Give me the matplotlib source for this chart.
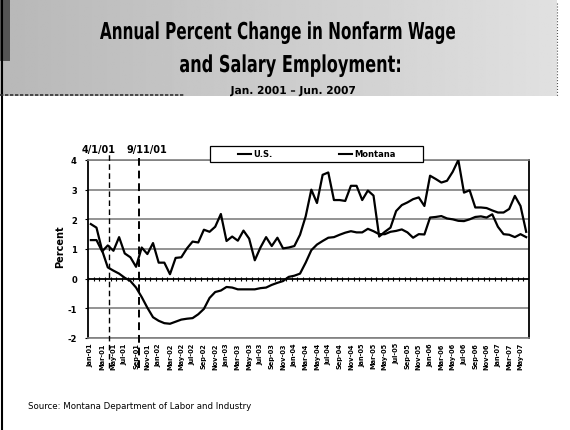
import numpy as np
import pandas as pd
import matplotlib
matplotlib.use("Agg")
import matplotlib.pyplot as plt
from matplotlib.lines import Line2D
from matplotlib.patches import Rectangle, PathPatch
from matplotlib.textpath import TextPath
from matplotlib.font_manager import FontProperties
from matplotlib.transforms import Affine2D

# monthly series, Jan 2001 - Jun 2007
months = pd.date_range("2001-01-01", "2007-06-01", freq="MS")
month_labels = [m.strftime("%b-%y") for m in months]

us = [1.84, 1.72, 0.95, 0.38, 0.27, 0.17, 0.03, -0.08, -0.30, -0.62,
      -0.98, -1.30, -1.42, -1.50, -1.52, -1.45, -1.38, -1.35, -1.33, -1.20,
      -1.02, -0.65, -0.45, -0.40, -0.28, -0.30, -0.36, -0.36, -0.36, -0.36,
      -0.32, -0.30, -0.21, -0.14, -0.08, 0.06, 0.10, 0.17, 0.54, 0.96,
      1.15, 1.27, 1.38, 1.40, 1.48, 1.55, 1.60, 1.56, 1.56, 1.68,
      1.60, 1.50, 1.50, 1.58, 1.61, 1.66, 1.56, 1.38, 1.50, 1.49,
      2.06, 2.08, 2.11, 2.03, 2.00, 1.95, 1.94, 2.00, 2.08, 2.10,
      2.06, 2.17, 1.75, 1.50, 1.48, 1.40, 1.50, 1.40]

montana = [1.30, 1.30, 0.92, 1.12, 0.94, 1.40, 0.85, 0.72, 0.40, 1.05,
           0.83, 1.20, 0.54, 0.54, 0.15, 0.70, 0.72, 1.02, 1.25, 1.22,
           1.65, 1.58, 1.75, 2.18, 1.27, 1.42, 1.28, 1.62, 1.35, 0.62,
           1.05, 1.40, 1.10, 1.38, 1.02, 1.05, 1.10, 1.48, 2.10, 3.00,
           2.55, 3.50, 3.58, 2.65, 2.65, 2.62, 3.13, 3.13, 2.65, 2.97,
           2.80, 1.42, 1.58, 1.72, 2.28, 2.48, 2.57, 2.68, 2.74, 2.45,
           3.47, 3.36, 3.24, 3.30, 3.60, 4.00, 2.90, 2.98, 2.40, 2.40,
           2.38, 2.30, 2.23, 2.23, 2.35, 2.79, 2.45, 1.58]

event_labels = ["4/1/01", "9/11/01"]
event_x = [3.25, 8.5]          # month index where the dashed lines sit
event_label_x = [1.3, 9.9]

W, H = 570, 431
fig = plt.figure(figsize=(W / 100, H / 100), dpi=100)


def narrow_text(ax, s, x0, x1, baseline, cap_h):
    # heavy condensed lettering: draw text as a path squeezed to fit x0..x1
    fp = FontProperties(family="DejaVu Sans", weight="bold")
    tp = TextPath((0, 0), s, size=cap_h / 0.73, prop=fp)
    ext = tp.get_extents()
    sx = (x1 - x0) / ext.width
    tr = Affine2D().translate(-ext.x0, 0).scale(sx, -1).translate(x0, baseline)
    ax.add_patch(PathPatch(tr.transform_path(tp), facecolor="black", lw=0))


# --- background / banner ---
bg = fig.add_axes([0, 0, 1, 1], zorder=-10)
grad = np.linspace(0.72, 0.88, 300)[None, :] * np.ones((10, 1))
bg.imshow(grad, cmap="gray", vmin=0, vmax=1, extent=(0, 557, 97, 0), aspect="auto")
bg.set_xlim(0, W)
bg.set_ylim(H, 0)
bg.axis("off")
bg.add_patch(Rectangle((0, 0), 10, 62, color="#555555", lw=0))
bg.plot([2, 2], [0, H], color="black", lw=1.5)
bg.plot([557, 557], [4, 97], color="#555555", lw=0.8, ls=":")
bg.plot([0, 185], [96, 96], color="#333333", lw=1.2, ls=(0, (2, 1)))

narrow_text(bg, "Annual Percent Change in Nonfarm Wage", 100, 455, 40, 17)
narrow_text(bg, "and Salary Employment:", 180, 400, 73, 17)
narrow_text(bg, "Jan. 2001 \u2013 Jun. 2007", 230, 355, 95, 8)

# --- chart ---
ax = fig.add_axes([88 / W, 1 - 339 / H, 441 / W, 178 / H])
ax.set_facecolor("none")
x = np.arange(len(months))

ax.set_xlim(-0.5, len(months) - 0.5)
ax.set_ylim(-2, 4)
ax.set_yticks(range(-2, 5))
ax.set_yticklabels([str(v) for v in range(-2, 5)], fontsize=6, fontweight="bold")
ax.yaxis.grid(True, color="#808080", lw=1.2)
ax.set_axisbelow(True)
ax.tick_params(axis="y", length=2, pad=6)

ax.set_xticks(x[::2])
ax.set_xticklabels(month_labels[::2], rotation=90, fontsize=4.8, fontweight="bold")
ax.tick_params(axis="x", length=0, pad=3)

for side in ["left", "right"]:
    ax.spines[side].set_color("black")
    ax.spines[side].set_linewidth(1.3)
for side in ["top", "bottom"]:
    ax.spines[side].set_color("#808080")
    ax.spines[side].set_linewidth(1.2)

# category axis crossing at zero, with a tick at each month boundary
ax.axhline(0, color="black", lw=1.2, zorder=2)
ax.vlines(np.arange(len(months) + 1) - 0.5, -0.07, 0.07, color="black", lw=0.8, zorder=2)

ax.plot(x, us, color="black", lw=1.6, zorder=3)
ax.plot(x, montana, color="black", lw=1.6, zorder=3)

for lab, xe, xl, lw in zip(event_labels, event_x, event_label_x, [1.0, 1.4]):
    ax.plot([xe, xe], [-3.0, 4.22], color="black", lw=lw, ls=(0, (4, 2.5)),
            clip_on=False, zorder=4)
    ax.text(xl, 4.37, lab, ha="center", va="center", fontsize=7, fontweight="bold")

fig.text(60 / W, 1 - 247 / H, "Percent", rotation=90, ha="center", va="center",
         fontsize=7, fontweight="bold")

# legend box
fig.add_artist(Rectangle((210 / W, 1 - 163 / H), 213 / W, 16 / H, transform=fig.transFigure,
                         facecolor="white", edgecolor="black", lw=0.9, zorder=5))
handles = [Line2D([], [], color="black", lw=1.5), Line2D([], [], color="black", lw=1.5)]
leg = fig.legend(handles, ["U.S.", "Montana"], loc="center", ncol=2,
                 bbox_to_anchor=(317 / W, 1 - 155 / H), frameon=False,
                 prop={"size": 6, "weight": "bold"}, handlelength=1.5,
                 handletextpad=0.3, columnspacing=8)
leg.set_zorder(6)

fig.text(28 / W, 1 - 407 / H, "Source: Montana Department of Labor and Industry",
         fontsize=6.2, va="center")

fig.savefig("out.png", dpi=100)
